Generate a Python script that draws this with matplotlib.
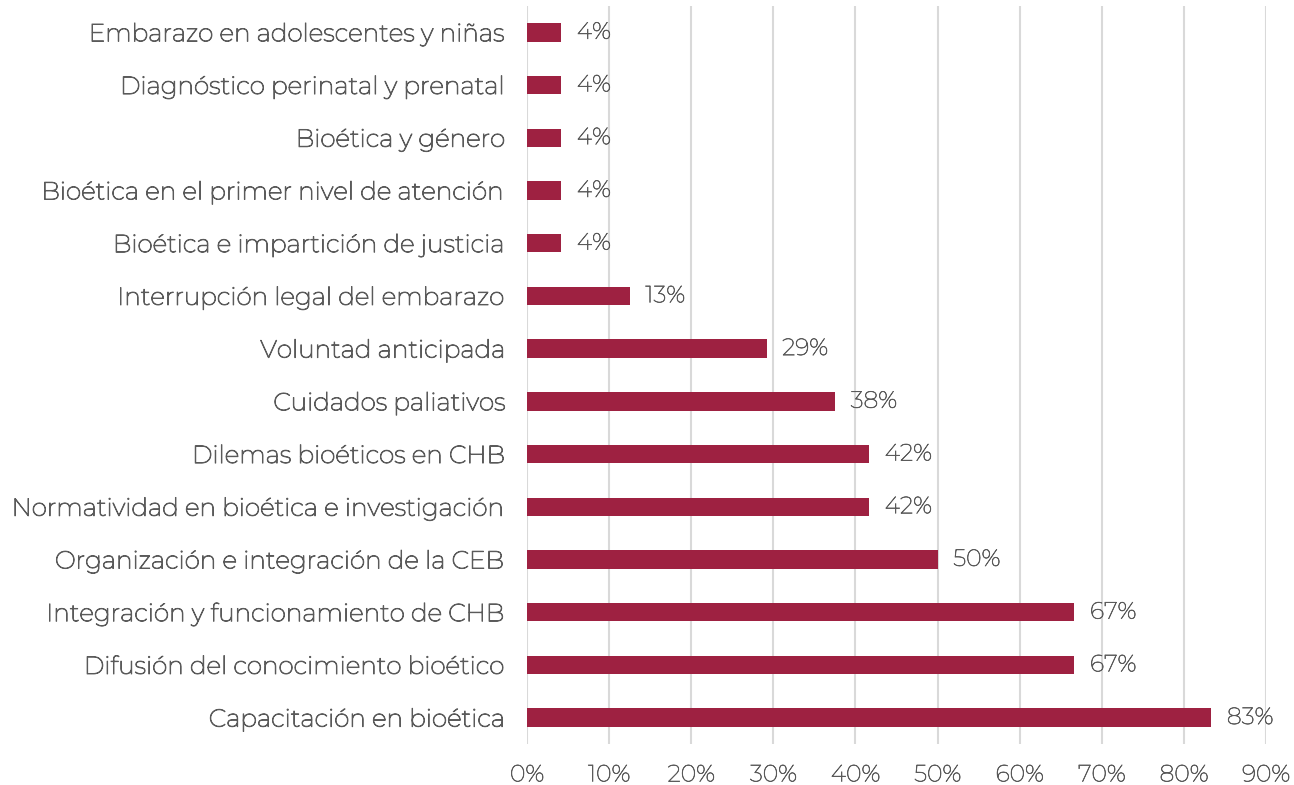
import numpy as np
import matplotlib.pyplot as plt
import matplotlib.patheffects as pe

# data (share of committees, %)
temas = ['Embarazo en adolescentes y niñas',
         'Diagnóstico perinatal y prenatal',
         'Bioética y género',
         'Bioética en el primer nivel de atención',
         'Bioética e impartición de justicia',
         'Interrupción legal del embarazo',
         'Voluntad anticipada',
         'Cuidados paliativos',
         'Dilemas bioéticos en CHB',
         'Normatividad en bioética e investigación',
         'Organización e integración de la CEB',
         'Integración y funcionamiento de CHB',
         'Difusión del conocimiento bioético',
         'Capacitación en bioética']
porcentaje = [4.17, 4.17, 4.17, 4.17, 4.17, 12.5, 29.17, 37.5, 41.67, 41.67, 50.0, 66.67, 66.67, 83.33]
xticks = np.arange(0, 100, 10)

color_barra = '#9E2141'
color_texto = '#5a5a5a'

# the installed Montserrat is the thin instance, so thicken it with a stroke
plt.rcParams['font.family'] = ['Montserrat', 'DejaVu Sans']
grueso = [pe.withStroke(linewidth=0.7, foreground=color_texto)]
fino = [pe.withStroke(linewidth=0.45, foreground=color_texto)]

fig = plt.figure(figsize=(12.94, 7.85), dpi=100)
ax = fig.add_axes([0.4073, 0.0522, 0.5711, 0.9402])

y = np.arange(len(temas))
ax.barh(y, porcentaje, height=0.35, color=color_barra, zorder=3)
for yi, v in zip(y, porcentaje):
    ax.text(v + 1.9, yi, '%d%%' % int(v + 0.5), va='center', ha='left',
            fontsize=17, color=color_texto, path_effects=fino)

ax.set_ylim(len(temas) - 0.5, -0.5)
ax.set_xlim(0, 90)
ax.set_yticks(y)
ax.set_yticklabels(temas, fontsize=17.8, color=color_texto)
ax.set_xticks(xticks)
ax.set_xticklabels(['%d%%' % t for t in xticks], fontsize=17, color=color_texto)
for t in ax.get_yticklabels():
    t.set_path_effects(grueso)
for t in ax.get_xticklabels():
    t.set_path_effects(fino)
ax.tick_params(axis='both', length=0)
ax.tick_params(axis='x', pad=14)
ax.tick_params(axis='y', pad=15)
ax.xaxis.grid(True, color='#d9d9d9', linewidth=1.5, zorder=0)
for s in ax.spines.values():
    s.set_visible(False)

fig.savefig('out.png', dpi=100)
